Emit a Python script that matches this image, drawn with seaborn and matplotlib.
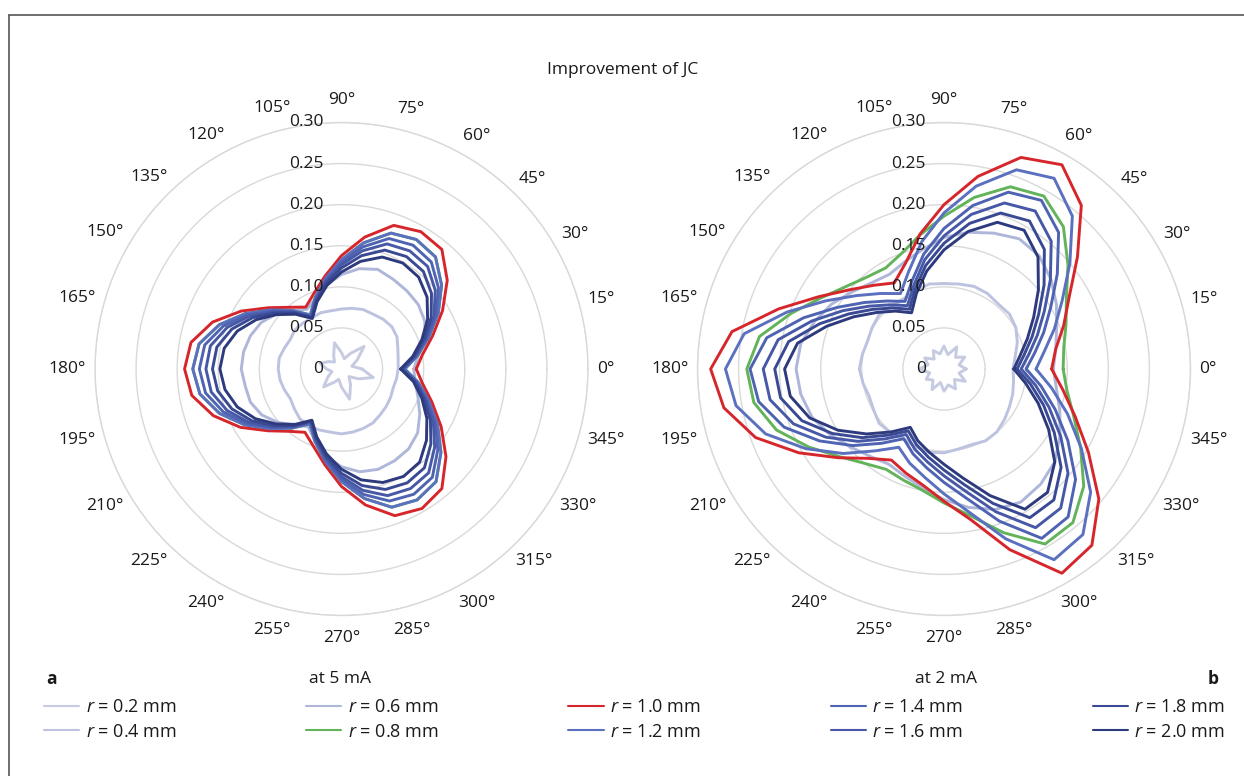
import numpy as np
import pandas as pd
import matplotlib
matplotlib.use("Agg")
import matplotlib.pyplot as plt
from matplotlib.lines import Line2D
import seaborn as sns

# ---------------- data ----------------
ANGLES_DEG = list(range(0, 360, 10))
STAR_ANGLES_DEG = list(range(0, 360, 15))
ANGLE_TICKS = list(range(0, 360, 15))
ANGLE_TICK_LABELS = [f"{a}°" for a in ANGLE_TICKS]
R_TICKS = [0.0, 0.05, 0.10, 0.15, 0.20, 0.25, 0.30]
R_TICK_LABELS = ["0", "0.05", "0.10", "0.15", "0.20", "0.25", "0.30"]
RADII = ["0.2", "0.4", "0.6", "0.8", "1.0", "1.2", "1.4", "1.6", "1.8", "2.0"]
TITLE = "Improvement of JC"
PANEL_TEXT = ["a", "at 5 mA", "at 2 mA", "b"]

# ---- at 5 mA (panel a) ----
JC5_R02 = [0.025, 0.013, 0.022, 0.039, 0.022, 0.013, 0.020, 0.033, 0.019, 0.012, 0.018, 0.027,
           0.018, 0.012, 0.019, 0.031, 0.019, 0.013, 0.022, 0.038, 0.022, 0.013, 0.024, 0.040]
JC5_R04 = [0.069, 0.070, 0.073, 0.078, 0.080, 0.079, 0.077, 0.077, 0.075, 0.073, 0.072, 0.073,
           0.072, 0.073, 0.074, 0.072, 0.074, 0.077, 0.077, 0.076, 0.074, 0.072, 0.075, 0.079,
           0.080, 0.079, 0.078, 0.079, 0.078, 0.077, 0.076, 0.073, 0.071, 0.069, 0.067, 0.068]
JC5_R06 = [0.088, 0.095, 0.108, 0.117, 0.122, 0.124, 0.126, 0.129, 0.124, 0.115, 0.104, 0.092,
           0.084, 0.093, 0.104, 0.113, 0.118, 0.121, 0.122, 0.119, 0.118, 0.112, 0.101, 0.089,
           0.081, 0.094, 0.108, 0.119, 0.127, 0.130, 0.129, 0.127, 0.121, 0.110, 0.099, 0.091]
JC5_R08 = [0.077, 0.094, 0.113, 0.136, 0.159, 0.178, 0.182, 0.176, 0.156, 0.133, 0.112, 0.093,
           0.076, 0.093, 0.112, 0.135, 0.158, 0.176, 0.181, 0.175, 0.158, 0.136, 0.113, 0.094,
           0.077, 0.094, 0.114, 0.137, 0.160, 0.179, 0.184, 0.179, 0.158, 0.135, 0.113, 0.095]
JC5_R10 = [0.091, 0.100, 0.118, 0.142, 0.168, 0.190, 0.193, 0.186, 0.163, 0.138, 0.115, 0.098,
           0.087, 0.098, 0.116, 0.141, 0.167, 0.186, 0.191, 0.185, 0.166, 0.142, 0.117, 0.099,
           0.089, 0.100, 0.118, 0.143, 0.168, 0.190, 0.196, 0.190, 0.166, 0.140, 0.117, 0.100]
JC5_R12 = [0.077, 0.094, 0.113, 0.136, 0.159, 0.178, 0.182, 0.176, 0.156, 0.133, 0.112, 0.093,
           0.076, 0.093, 0.112, 0.135, 0.158, 0.176, 0.181, 0.175, 0.158, 0.136, 0.113, 0.094,
           0.077, 0.094, 0.114, 0.137, 0.160, 0.179, 0.184, 0.179, 0.158, 0.135, 0.113, 0.095]
JC5_R14 = [0.075, 0.092, 0.111, 0.133, 0.154, 0.170, 0.174, 0.169, 0.151, 0.130, 0.110, 0.091,
           0.074, 0.091, 0.110, 0.132, 0.153, 0.169, 0.173, 0.168, 0.153, 0.133, 0.111, 0.092,
           0.075, 0.092, 0.112, 0.134, 0.155, 0.171, 0.176, 0.172, 0.153, 0.132, 0.111, 0.093]
JC5_R16 = [0.074, 0.091, 0.109, 0.130, 0.149, 0.163, 0.166, 0.162, 0.146, 0.127, 0.108, 0.090,
           0.073, 0.090, 0.108, 0.129, 0.148, 0.162, 0.165, 0.161, 0.148, 0.130, 0.109, 0.091,
           0.074, 0.091, 0.110, 0.131, 0.150, 0.164, 0.168, 0.165, 0.148, 0.129, 0.109, 0.092]
JC5_R18 = [0.073, 0.090, 0.107, 0.126, 0.143, 0.155, 0.158, 0.154, 0.140, 0.123, 0.106, 0.089,
           0.072, 0.089, 0.106, 0.125, 0.142, 0.154, 0.157, 0.153, 0.142, 0.126, 0.107, 0.090,
           0.073, 0.090, 0.108, 0.127, 0.144, 0.156, 0.160, 0.157, 0.142, 0.125, 0.107, 0.091]
JC5_R20 = [0.072, 0.088, 0.104, 0.121, 0.136, 0.146, 0.149, 0.145, 0.133, 0.118, 0.103, 0.087,
           0.071, 0.087, 0.103, 0.120, 0.135, 0.145, 0.148, 0.144, 0.135, 0.121, 0.104, 0.088,
           0.072, 0.088, 0.105, 0.122, 0.137, 0.147, 0.151, 0.148, 0.135, 0.120, 0.104, 0.089]

# ---- at 2 mA (panel b) ----
JC2_R02 = [0.027, 0.019, 0.029, 0.020, 0.031, 0.018, 0.028, 0.019, 0.026, 0.017, 0.027, 0.020,
           0.030, 0.018, 0.025, 0.019, 0.029, 0.017, 0.027, 0.020, 0.028, 0.018, 0.030, 0.019]
JC2_R04 = [0.084, 0.088, 0.095, 0.101, 0.104, 0.103, 0.106, 0.107, 0.105, 0.104, 0.105, 0.101,
           0.098, 0.100, 0.103, 0.101, 0.099, 0.101, 0.103, 0.100, 0.097, 0.099, 0.103, 0.101,
           0.098, 0.101, 0.103, 0.102, 0.099, 0.098, 0.101, 0.100, 0.096, 0.092, 0.089, 0.086]
JC2_R06 = [0.133, 0.138, 0.146, 0.158, 0.170, 0.180, 0.183, 0.176, 0.169, 0.160, 0.148, 0.139,
           0.133, 0.137, 0.146, 0.158, 0.168, 0.177, 0.180, 0.177, 0.171, 0.160, 0.148, 0.139,
           0.134, 0.139, 0.147, 0.159, 0.171, 0.182, 0.187, 0.183, 0.176, 0.163, 0.150, 0.139]
JC2_R08 = [0.145, 0.148, 0.158, 0.172, 0.197, 0.226, 0.243, 0.236, 0.212, 0.186, 0.166, 0.150,
           0.142, 0.146, 0.156, 0.173, 0.198, 0.228, 0.240, 0.235, 0.217, 0.190, 0.166, 0.150,
           0.141, 0.144, 0.150, 0.163, 0.181, 0.212, 0.246, 0.244, 0.222, 0.192, 0.168, 0.152]
JC2_R10 = [0.131, 0.138, 0.155, 0.176, 0.212, 0.260, 0.287, 0.274, 0.238, 0.200, 0.167, 0.137,
           0.121, 0.133, 0.150, 0.176, 0.214, 0.262, 0.284, 0.272, 0.244, 0.204, 0.168, 0.142,
           0.128, 0.135, 0.144, 0.161, 0.186, 0.234, 0.287, 0.280, 0.246, 0.203, 0.170, 0.147]
JC2_R12 = [0.112, 0.124, 0.143, 0.166, 0.200, 0.243, 0.268, 0.258, 0.226, 0.190, 0.157, 0.126,
           0.106, 0.120, 0.139, 0.166, 0.203, 0.247, 0.266, 0.257, 0.231, 0.194, 0.160, 0.130,
           0.110, 0.122, 0.134, 0.152, 0.177, 0.220, 0.268, 0.263, 0.233, 0.193, 0.160, 0.133]
JC2_R14 = [0.100, 0.112, 0.129, 0.150, 0.180, 0.217, 0.237, 0.229, 0.202, 0.171, 0.142, 0.114,
           0.095, 0.108, 0.126, 0.150, 0.182, 0.219, 0.236, 0.229, 0.207, 0.175, 0.145, 0.118,
           0.098, 0.110, 0.122, 0.138, 0.160, 0.197, 0.238, 0.235, 0.209, 0.174, 0.144, 0.120]
JC2_R16 = [0.094, 0.105, 0.121, 0.141, 0.169, 0.203, 0.222, 0.215, 0.191, 0.162, 0.135, 0.108,
           0.089, 0.102, 0.119, 0.142, 0.171, 0.205, 0.220, 0.215, 0.195, 0.166, 0.137, 0.111,
           0.092, 0.104, 0.115, 0.130, 0.151, 0.185, 0.223, 0.221, 0.197, 0.164, 0.136, 0.113]
JC2_R18 = [0.089, 0.099, 0.114, 0.133, 0.159, 0.190, 0.208, 0.202, 0.180, 0.153, 0.128, 0.103,
           0.084, 0.097, 0.113, 0.134, 0.161, 0.192, 0.206, 0.202, 0.184, 0.157, 0.130, 0.105,
           0.087, 0.098, 0.109, 0.123, 0.143, 0.174, 0.209, 0.208, 0.186, 0.155, 0.129, 0.107]
JC2_R20 = [0.085, 0.094, 0.108, 0.126, 0.150, 0.178, 0.195, 0.190, 0.170, 0.145, 0.121, 0.098,
           0.079, 0.092, 0.107, 0.127, 0.152, 0.181, 0.194, 0.190, 0.174, 0.149, 0.123, 0.100,
           0.082, 0.093, 0.103, 0.116, 0.135, 0.164, 0.197, 0.196, 0.176, 0.147, 0.122, 0.101]

COLORS = {"0.2": "#c6cbe1", "0.4": "#bcc2df", "0.6": "#aeb6da", "0.8": "#62b35a",
          "1.0": "#d7262b", "1.2": "#5b70bf", "1.4": "#4f63b3", "1.6": "#4658a6",
          "1.8": "#3a4993", "2.0": "#2d3a7d"}

PANEL_5MA = {"0.2": (STAR_ANGLES_DEG, JC5_R02), "0.4": (ANGLES_DEG, JC5_R04),
             "0.6": (ANGLES_DEG, JC5_R06), "0.8": (ANGLES_DEG, JC5_R08),
             "1.0": (ANGLES_DEG, JC5_R10), "1.2": (ANGLES_DEG, JC5_R12),
             "1.4": (ANGLES_DEG, JC5_R14), "1.6": (ANGLES_DEG, JC5_R16),
             "1.8": (ANGLES_DEG, JC5_R18), "2.0": (ANGLES_DEG, JC5_R20)}
PANEL_2MA = {"0.2": (STAR_ANGLES_DEG, JC2_R02), "0.4": (ANGLES_DEG, JC2_R04),
             "0.6": (ANGLES_DEG, JC2_R06), "0.8": (ANGLES_DEG, JC2_R08),
             "1.0": (ANGLES_DEG, JC2_R10), "1.2": (ANGLES_DEG, JC2_R12),
             "1.4": (ANGLES_DEG, JC2_R14), "1.6": (ANGLES_DEG, JC2_R16),
             "1.8": (ANGLES_DEG, JC2_R18), "2.0": (ANGLES_DEG, JC2_R20)}

# ---------------- style ----------------
sns.set_theme(style="white")
plt.rcParams["font.family"] = ["Open Sans", "DejaVu Sans"]
plt.rcParams["mathtext.fontset"] = "custom"
plt.rcParams["mathtext.it"] = "Open Sans:italic"
plt.rcParams["mathtext.rm"] = "Open Sans"
TXT = "#1a1a1a"
GRID = "#d9d9d9"
FS = 12.5

W, H = 1244, 776
fig = plt.figure(figsize=(W / 100, H / 100), dpi=100)
fig.patch.set_facecolor("white")

R_PX = 246.5


def make_ax(cx, cy):
    ax = fig.add_axes([(cx - R_PX) / W, 1 - (cy + R_PX) / H, 2 * R_PX / W, 2 * R_PX / H],
                      projection="polar")
    return ax


def draw_panel(ax, panel):
    rows = []
    for name, (angs, vals) in panel.items():
        th = list(np.deg2rad(angs)) + [np.deg2rad(angs[0]) + 2 * np.pi]
        vv = list(vals) + [vals[0]]
        for t, v in zip(th, vv):
            rows.append((name, t, v))
    df = pd.DataFrame(rows, columns=["radius", "theta", "jc"])
    sns.lineplot(data=df, x="theta", y="jc", hue="radius", hue_order=RADII,
                 palette=COLORS, sort=False, estimator=None, linewidth=2.1,
                 legend=False, ax=ax)
    ax.set_xlabel("")
    ax.set_ylabel("")
    ax.set_ylim(0, 0.30)
    ax.set_yticks(R_TICKS[1:])
    ax.set_yticklabels([])
    ax.set_xticks(np.deg2rad(ANGLE_TICKS))
    ax.set_xticklabels([])
    ax.xaxis.grid(False)
    ax.yaxis.grid(True, color=GRID, linewidth=1.0)
    ax.spines["polar"].set_color(GRID)
    ax.spines["polar"].set_linewidth(1.0)
    ax.tick_params(length=0)
    ax.set_facecolor("none")
    # radial labels along 90 degrees
    for v, lab in zip(R_TICKS, R_TICK_LABELS):
        ax.annotate(lab, xy=(np.pi / 2, v), xytext=(-18, 0), textcoords="offset pixels",
                    ha="right", va="center", fontsize=FS, color=TXT, zorder=5)
    # angle labels
    texts = []
    for a, lab in zip(ANGLE_TICKS, ANGLE_TICK_LABELS):
        t = ax.annotate(lab, xy=(np.deg2rad(a), 0.30), xytext=(0, 0),
                        textcoords="offset pixels", ha="center", va="center",
                        fontsize=FS, color=TXT, annotation_clip=False)
        texts.append((a, t))
    return texts


axL = make_ax(341.5, 369)
axR = make_ax(944, 369)
tL = draw_panel(axL, PANEL_5MA)
tR = draw_panel(axR, PANEL_2MA)

renderer = fig.canvas.get_renderer()
GAP = 9
VERT = 14
for a, t in tL + tR:
    bb = t.get_window_extent(renderer)
    w = bb.width
    c, s = np.cos(np.deg2rad(a)), np.sin(np.deg2rad(a))
    rho = GAP + (w / 2) * c * c + VERT * s * s
    t.xyann = (c * rho, s * rho)

# title and panel texts
fig.text(623 / W, 1 - 70 / H, TITLE, ha="center", va="center", fontsize=12.5, color=TXT)
fig.text(46 / W, 1 - 679 / H, PANEL_TEXT[0], ha="left", va="center", fontsize=FS,
         fontweight="bold", color=TXT)
fig.text(340 / W, 1 - 679 / H, PANEL_TEXT[1], ha="center", va="center", fontsize=FS, color=TXT)
fig.text(946 / W, 1 - 679 / H, PANEL_TEXT[2], ha="center", va="center", fontsize=FS, color=TXT)
fig.text(1219 / W, 1 - 679 / H, PANEL_TEXT[3], ha="right", va="center", fontsize=FS,
         fontweight="bold", color=TXT)

# legend
handles = [Line2D([0], [0], color=COLORS[r], lw=1.5) for r in RADII]
labels = [f"$r$ = {r} mm" for r in RADII]
fig.legend(handles, labels, ncol=5, loc="upper left",
           bbox_to_anchor=(44 / W, 1 - 698 / H), frameon=False, fontsize=13,
           handlelength=1.95, handletextpad=0.35, columnspacing=7.2, labelspacing=0.37,
           borderpad=0, borderaxespad=0, labelcolor=TXT)

# frame (left and top edges visible)
fig.add_artist(Line2D([9 / W, 9 / W], [0, 1 - 14.5 / H], transform=fig.transFigure,
                      color="#555555", lw=1.2))
fig.add_artist(Line2D([9 / W, 1], [1 - 14.5 / H, 1 - 14.5 / H], transform=fig.transFigure,
                      color="#555555", lw=1.2))

fig.savefig("out.png", dpi=100, facecolor="white")
